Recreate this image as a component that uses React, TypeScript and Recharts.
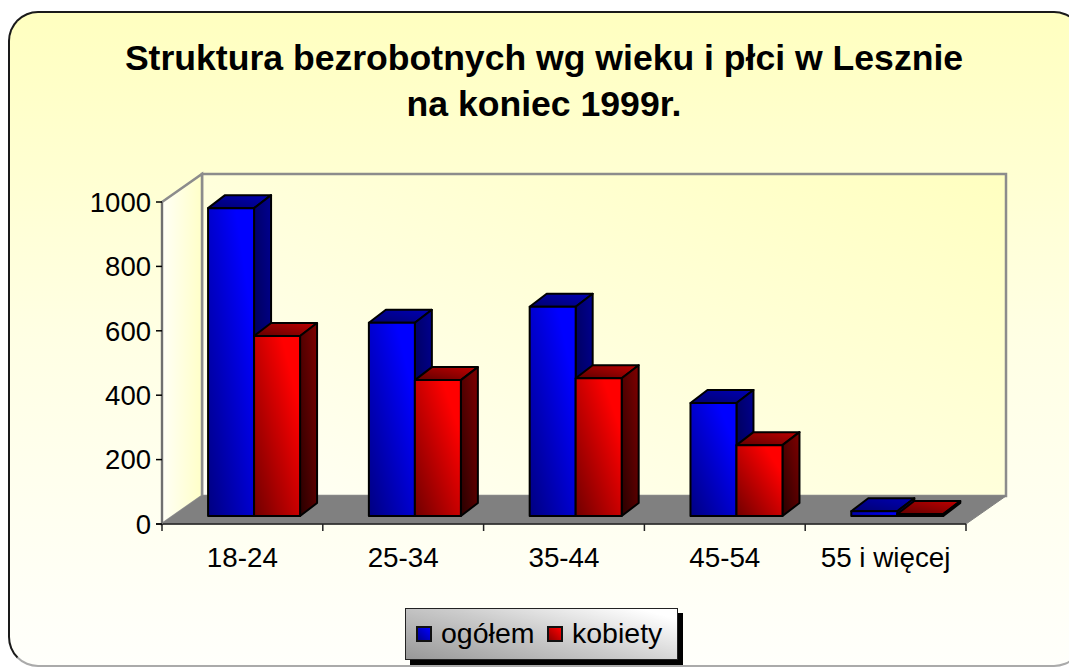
import React from "react";
import { BarChart, Bar, XAxis, YAxis, Legend } from "recharts";

const categories = ["18-24", "25-34", "35-44", "45-54", "55 i więcej"];
const ogolem = [956, 600, 650, 351, 15];
const kobiety = [559, 422, 428, 220, 6];
const yTicks = [0, 200, 400, 600, 800, 1000];
const titleLines = ["Struktura bezrobotnych wg wieku i płci w Lesznie", "na koniec 1999r."];
const seriesNames = { ogolem: "ogółem", kobiety: "kobiety" };

const data = categories.map((c, i) => ({ c, ogolem: ogolem[i], kobiety: kobiety[i] }));

const FONT = "'Liberation Sans', Arial, sans-serif";
const W = 1069;
const H = 668;
const LEFT = 162;
const RIGHT = 966;
const TOP = 202;
const BOTTOM = 524;
const WALL_DX = 40;
const WALL_DY = -28;
const BAR_DX = 17;
const BAR_DY = -13;
const SHIFT_X = 11.5;
const SHIFT_Y = -8;

function Walls() {
  const step = (RIGHT - LEFT) / categories.length;
  return (
    <g>
      <polygon
        points={`${LEFT + WALL_DX},${TOP + WALL_DY} ${RIGHT + WALL_DX},${TOP + WALL_DY} ${RIGHT + WALL_DX},${BOTTOM + WALL_DY} ${LEFT + WALL_DX},${BOTTOM + WALL_DY}`}
        fill="url(#backWall)"
        stroke="#8c8c8c"
        strokeWidth={2.5}
      />
      <polygon
        points={`${LEFT},${TOP} ${LEFT + WALL_DX},${TOP + WALL_DY} ${LEFT + WALL_DX},${BOTTOM + WALL_DY} ${LEFT},${BOTTOM}`}
        fill="url(#sideWall)"
        stroke="#8c8c8c"
        strokeWidth={2.5}
      />
      <polygon
        points={`${LEFT},${BOTTOM} ${RIGHT},${BOTTOM} ${RIGHT + WALL_DX},${BOTTOM + WALL_DY} ${LEFT + WALL_DX},${BOTTOM + WALL_DY}`}
        fill="#808080"
        stroke="#808080"
      />
      <line x1={LEFT - 6} x2={RIGHT} y1={BOTTOM} y2={BOTTOM} stroke="#222" strokeWidth={1.5} />
      {categories.concat("").map((_, i) => (
        <line
          key={i}
          x1={LEFT + i * step}
          x2={LEFT + i * step}
          y1={BOTTOM}
          y2={BOTTOM + 7}
          stroke="#222"
          strokeWidth={1.5}
        />
      ))}
    </g>
  );
}

function Bar3D(props: any, name: string) {
  const x = props.x + SHIFT_X;
  const y = props.y + SHIFT_Y;
  const w = props.width;
  const h = props.height;
  const common = { stroke: "#000", strokeWidth: 2, strokeLinejoin: "round" as const };
  return (
    <g>
      <polygon
        points={`${x},${y} ${x + w},${y} ${x + w + BAR_DX},${y + BAR_DY} ${x + BAR_DX},${y + BAR_DY}`}
        fill={`url(#${name}Top)`}
        {...common}
      />
      <polygon
        points={`${x + w},${y} ${x + w + BAR_DX},${y + BAR_DY} ${x + w + BAR_DX},${y + h + BAR_DY} ${x + w},${y + h}`}
        fill={`url(#${name}Side)`}
        {...common}
      />
      <rect x={x} y={y} width={w} height={h} fill={`url(#${name}Front)`} {...common} />
    </g>
  );
}

function LegendBox() {
  const item = (label: string, fill: string, width: number) => (
    <span style={{ display: "inline-flex", alignItems: "center", width }}>
      <span
        style={{
          display: "inline-block",
          boxSizing: "border-box",
          width: 16,
          height: 16,
          background: fill,
          border: "2px solid #111",
          marginRight: 9,
          marginTop: 3,
        }}
      />
      {label}
    </span>
  );
  return (
    <div
      style={{
        boxSizing: "border-box",
        width: 273,
        height: 52,
        border: "1.5px solid #222",
        boxShadow: "5px 5px 0 #000",
        background: "linear-gradient(15deg, #989898 0%, #cccccc 50%, #ffffff 92%)",
        fontFamily: FONT,
        fontSize: 28.5,
        color: "#000",
        display: "flex",
        alignItems: "center",
        paddingLeft: 10,
        paddingBottom: 3,
        lineHeight: "40px",
      }}
    >
      {item(seriesNames.ogolem, "linear-gradient(45deg,#000090,#0000ff)", 131)}
      {item(seriesNames.kobiety, "linear-gradient(45deg,#900000,#ff0000)", 125)}
    </div>
  );
}

function Diagonal({ id, from, to, end = 1 }: { id: string; from: string; to: string; end?: number }) {
  return (
    <linearGradient id={id} x1="0" y1="1" x2="1" y2="0">
      <stop offset="0" stopColor={from} />
      <stop offset={end} stopColor={to} />
    </linearGradient>
  );
}

export default function App() {
  return (
    <div
      style={{ position: "fixed", left: 0, top: 0, width: W, height: H, overflow: "hidden", background: "#fff" }}
    >
      <div
        style={{
          position: "absolute",
          left: 8,
          top: 11,
          width: 1076,
          height: 656,
          boxSizing: "border-box",
          border: "2px solid #1a1a1a",
          borderBottomColor: "#aaa",
          borderRadius: 30,
          background: "linear-gradient(180deg, #ffffc0 0%, #ffffe4 50%, #fffffb 100%)",
        }}
      />
      <div
        style={{
          position: "absolute",
          left: 0,
          top: 35,
          width: 1088,
          textAlign: "center",
          fontFamily: FONT,
          fontWeight: 700,
          fontSize: 35.6,
          lineHeight: "46px",
          color: "#000",
        }}
      >
        {titleLines.map((t) => (
          <div key={t}>{t}</div>
        ))}
      </div>
      <div style={{ position: "absolute", left: 0, top: 0 }}>
        <BarChart
          width={W}
          height={H}
          data={data}
          margin={{ top: TOP, bottom: H - BOTTOM - 60, left: LEFT - 70, right: W - RIGHT }}
          barCategoryGap="21.5%"
          barGap={0}
          style={{ fontFamily: FONT }}
        >
          <defs>
            <Diagonal id="backWall" from="#fffff6" to="#ffffc0" />
            <linearGradient id="sideWall" x1="0" y1="0" x2="1" y2="0">
              <stop offset="0" stopColor="#fffff6" />
              <stop offset="1" stopColor="#ffffc8" />
            </linearGradient>
            <Diagonal id="ogolemFront" from="#000080" to="#0000ff" end={0.8} />
            <Diagonal id="ogolemTop" from="#000070" to="#0000b4" />
            <Diagonal id="ogolemSide" from="#000048" to="#000090" />
            <Diagonal id="kobietyFront" from="#700000" to="#ff0000" end={0.8} />
            <Diagonal id="kobietyTop" from="#600000" to="#c00000" />
            <Diagonal id="kobietySide" from="#280000" to="#800000" />
          </defs>
          <Walls />
          <XAxis
            dataKey="c"
            height={60}
            axisLine={false}
            tickLine={false}
            tickMargin={17}
            tick={{ fontSize: 27.8, fill: "#000", fontFamily: FONT }}
            interval={0}
          />
          <YAxis
            width={70}
            domain={[0, 1000]}
            ticks={yTicks}
            tickSize={6}
            tickMargin={5}
            axisLine={{ stroke: "#707070", strokeWidth: 2 }}
            tickLine={{ stroke: "#000", strokeWidth: 1.5 }}
            tick={{ fontSize: 27.5, fill: "#000", fontFamily: FONT }}
            interval={0}
          />
          <Bar dataKey="ogolem" name={seriesNames.ogolem} fill="#0000ff" isAnimationActive={false} shape={(p: any) => Bar3D(p, "ogolem")} />
          <Bar dataKey="kobiety" name={seriesNames.kobiety} fill="#ff0000" isAnimationActive={false} shape={(p: any) => Bar3D(p, "kobiety")} />
          <Legend
            layout="horizontal"
            verticalAlign="middle"
            align="center"
            content={() => <LegendBox />}
            wrapperStyle={{ position: "absolute", left: 405, top: 608, width: 273, height: 52 }}
          />
        </BarChart>
      </div>
    </div>
  );
}
